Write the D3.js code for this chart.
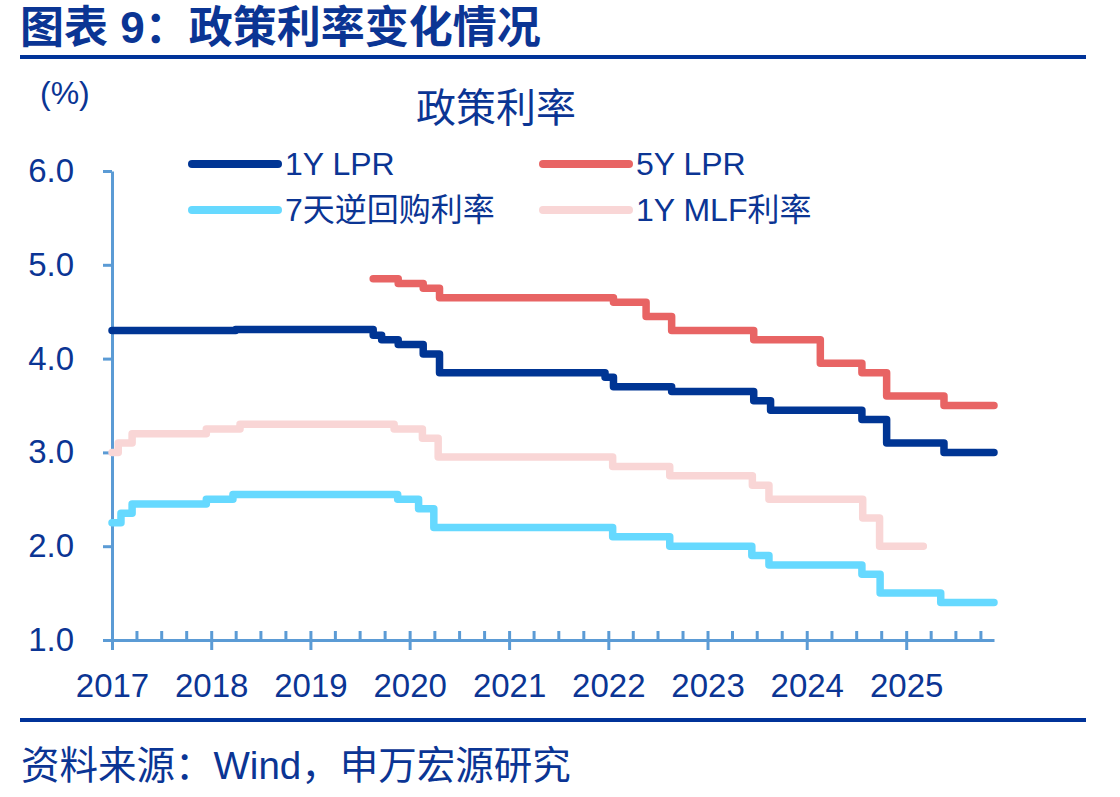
<!DOCTYPE html>
<html>
<head>
<meta charset="utf-8">
<script src="https://cdn.jsdelivr.net/npm/d3@7"></script>
<style>
	body { margin:0; background:#fff; }
	text { font-family:"Liberation Sans","Noto Sans CJK SC",sans-serif; }
</style>
</head>
<body>
<div id="chart_area"></div>
<script>

//series data (change dates and the rate from that date)

var sLpr1Dates = ["2017-01-01","2018-04-01","2019-08-20","2019-09-20","2019-11-20","2020-02-20","2020-04-20","2021-12-20","2022-01-20","2022-08-22","2023-06-20","2023-08-21","2024-07-22","2024-10-21","2025-05-20","2025-11-20"];
var sLpr1Values = [4.30,4.31,4.25,4.20,4.15,4.05,3.85,3.80,3.70,3.65,3.55,3.45,3.35,3.10,3.00,3.00];

var sLpr5Dates = ["2019-08-20","2019-11-20","2020-02-20","2020-04-20","2022-01-20","2022-05-20","2022-08-22","2023-06-20","2024-02-20","2024-07-22","2024-10-21","2025-05-20","2025-11-20"];
var sLpr5Values = [4.85,4.80,4.75,4.65,4.60,4.45,4.30,4.20,3.95,3.85,3.60,3.50,3.50];

var sRepoDates = ["2017-01-01","2017-02-03","2017-03-16","2017-12-14","2018-03-22","2019-11-18","2020-02-03","2020-03-30","2022-01-17","2022-08-15","2023-06-13","2023-08-15","2024-07-22","2024-09-27","2025-05-08","2025-11-20"];
var sRepoValues = [2.25,2.35,2.45,2.50,2.55,2.50,2.40,2.20,2.10,2.00,1.90,1.80,1.70,1.50,1.40,1.40];

var sMlfDates = ["2017-01-01","2017-01-24","2017-03-16","2017-12-14","2018-04-17","2019-11-05","2020-02-17","2020-04-15","2022-01-17","2022-08-15","2023-06-15","2023-08-15","2024-07-25","2024-09-25","2025-03-05"];
var sMlfValues = [3.00,3.10,3.20,3.25,3.30,3.25,3.15,2.95,2.85,2.75,2.65,2.50,2.30,2.00,2.00];

var sSeriesNames = ["1Y LPR","5Y LPR","7天逆回购利率","1Y MLF利率"];
var sYTicks = [1,2,3,4,5,6];
var sYearTicks = [2017,2018,2019,2020,2021,2022,2023,2024,2025];

//get the area

var sChartArea = d3.select("#chart_area");
var sFrame = sChartArea.append("svg");
sFrame.attr("width",1120);
sFrame.attr("height",797);

var sTextColor = "#0b3594";
var sAxisColor = "#5b9bd5";
var sColors = ["#003594","#e86464","#66d9ff","#f9d6d6"];

//header and footer

sFrame.append("text")
	.attr("x",20).attr("y",43)
	.attr("font-size",44).attr("font-weight","bold")
	.attr("fill",sTextColor)
	.text("图表 9：政策利率变化情况");

sFrame.append("rect").attr("x",20).attr("y",55).attr("width",1066).attr("height",4).attr("fill","#003399");
sFrame.append("rect").attr("x",20).attr("y",718).attr("width",1066).attr("height",4).attr("fill","#003399");

sFrame.append("text")
	.attr("x",21).attr("y",779)
	.attr("font-size",38.5)
	.attr("fill",sTextColor)
	.text("资料来源：Wind，申万宏源研究");

//chart titles

sFrame.append("text")
	.attr("x",40).attr("y",104)
	.attr("font-size",32)
	.attr("fill",sTextColor)
	.text("(%)");

sFrame.append("text")
	.attr("x",496).attr("y",122)
	.attr("font-size",40)
	.attr("text-anchor","middle")
	.attr("fill",sTextColor)
	.text("政策利率");

//scales

var sParse = d3.timeParse("%Y-%m-%d");
var sX = d3.scaleTime()
	.domain([sParse("2017-01-01"),sParse("2025-11-20")])
	.range([112,994]);
var sY = d3.scaleLinear()
	.domain([1,6])
	.range([640,171]);

//axes

var sYAxis = sFrame.append("g")
	.attr("transform","translate(112,0)")
	.call(d3.axisLeft(sY).tickValues(sYTicks).tickSize(9).tickSizeOuter(0).tickPadding(29).tickFormat(d3.format(".1f")));

var sXMinor = sFrame.append("g")
	.attr("transform","translate(0,640)")
	.call(d3.axisBottom(sX).ticks(d3.timeMonth.every(3)).tickSize(-9).tickSizeOuter(0).tickFormat(""));

var sXAxis = sFrame.append("g")
	.attr("transform","translate(0,640)")
	.call(d3.axisBottom(sX).tickValues(sYearTicks.map(function(d){ return new Date(d,0,1); })).tickSize(10).tickSizeOuter(0).tickPadding(24).tickFormat(d3.timeFormat("%Y")));

[sYAxis,sXMinor,sXAxis].forEach(function(a){
	a.selectAll("path,line").attr("stroke",sAxisColor).attr("stroke-width",3);
	a.selectAll("text").attr("fill",sTextColor).attr("font-size",33).attr("font-family","Liberation Sans, sans-serif");
});
sXMinor.select("path").remove();

//lines

var sSeries = [
	{dates:sLpr1Dates, values:sLpr1Values},
	{dates:sLpr5Dates, values:sLpr5Values},
	{dates:sRepoDates, values:sRepoValues},
	{dates:sMlfDates, values:sMlfValues}
];

var sLine = d3.line()
	.x(function(d){ return sX(d[0]); })
	.y(function(d){ return sY(d[1]); })
	.curve(d3.curveStepAfter);

var sDrawOrder = [3,2,1,0];
sDrawOrder.forEach(function(i){
	var sPoints = sSeries[i].dates.map(function(d,j){ return [sParse(d),sSeries[i].values[j]]; });
	sFrame.append("path")
		.attr("d",sLine(sPoints))
		.attr("fill","none")
		.attr("stroke",sColors[i])
		.attr("stroke-width",7.5)
		.attr("stroke-linejoin","round")
		.attr("stroke-linecap","round");
});

//legend

var sLegendX = [192,543];
var sLegendY = [164,210];
sSeriesNames.forEach(function(name,i){
	var lx = sLegendX[i % 2];
	var ly = sLegendY[Math.floor(i / 2)];
	sFrame.append("line")
		.attr("x1",lx).attr("x2",lx + 86)
		.attr("y1",ly).attr("y2",ly)
		.attr("stroke",sColors[i])
		.attr("stroke-width",8)
		.attr("stroke-linecap","round");
	sFrame.append("text")
		.attr("x",lx + 93).attr("y",ly + 11)
		.attr("font-size",32)
		.attr("fill",sTextColor)
		.text(name);
});

</script>
</body>
</html>
